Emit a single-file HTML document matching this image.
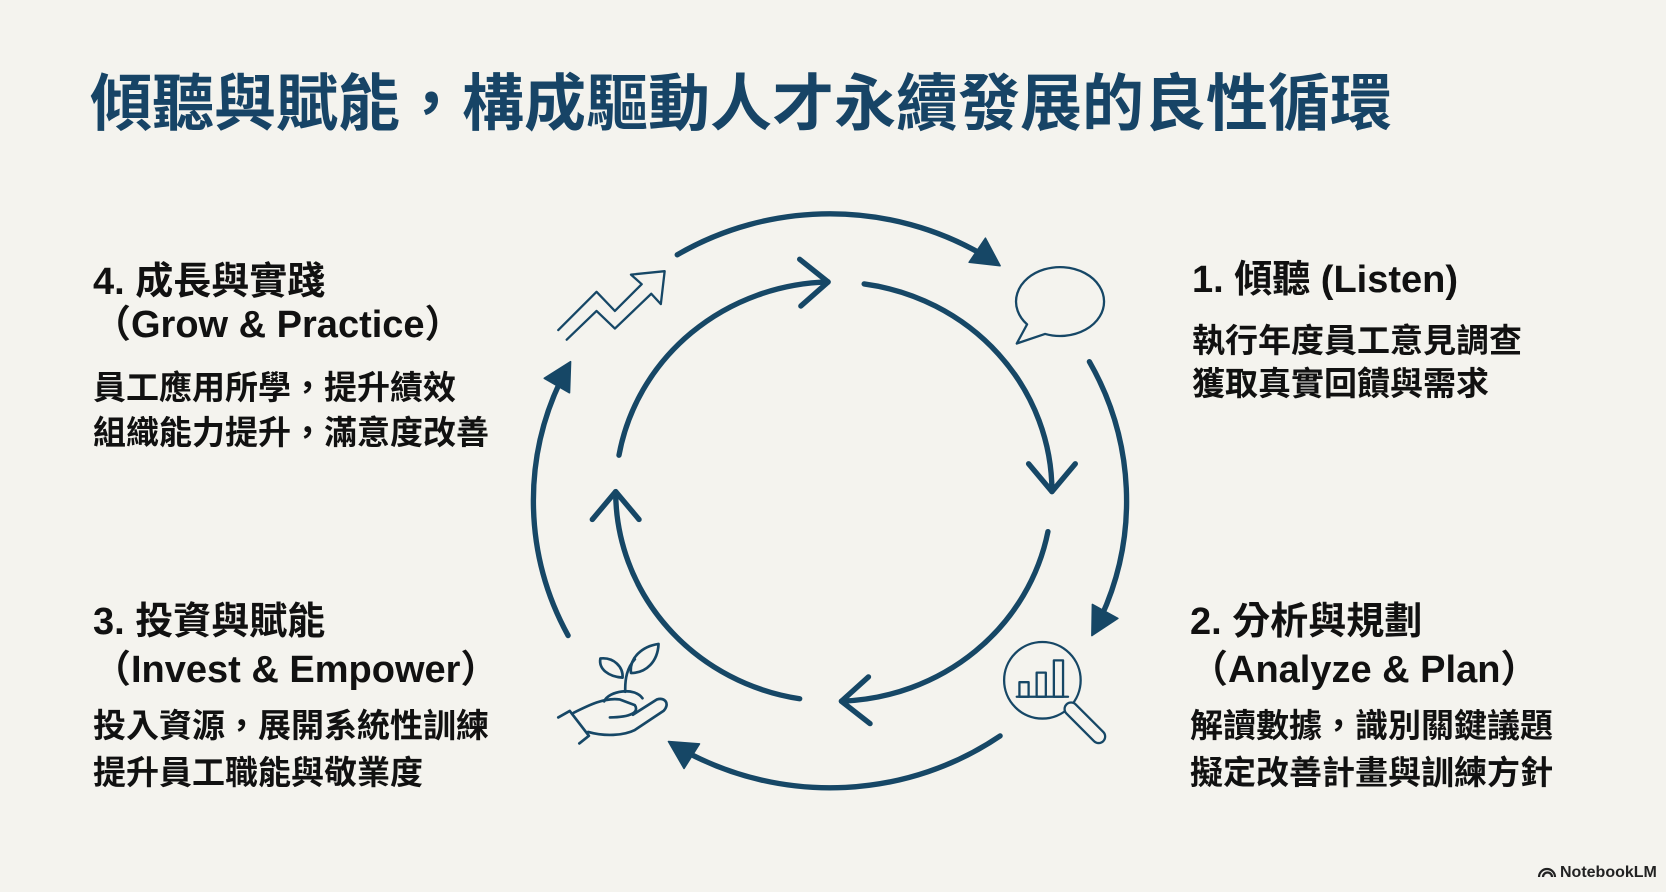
<!DOCTYPE html>
<html><head><meta charset="utf-8">
<style>
html,body{margin:0;padding:0;}
body{width:1666px;height:892px;background:#f4f3ee;position:relative;overflow:hidden;font-family:"Liberation Sans","Noto Sans CJK TC",sans-serif;}
.t{position:absolute;white-space:nowrap;color:#111;font-weight:bold;}
.title{position:absolute;left:90px;top:72px;font-size:62px;line-height:66px;color:#174466;font-weight:bold;font-family:"Liberation Sans","Noto Sans CJK TC",sans-serif;white-space:nowrap;}
.h{font-size:38px;line-height:38px;}
.b{font-size:33px;line-height:33px;}
svg{position:absolute;}
.logo{position:absolute;top:863px;font-size:16px;line-height:20px;color:#222;font-weight:bold;white-space:nowrap;}
</style></head>
<body>
<svg width="1666" height="892" viewBox="0 0 1666 892" style="left:0;top:0;">
 <g transform="translate(520,200) scale(0.3827)" fill="none" stroke="#164766" stroke-linecap="round" stroke-linejoin="round">
  <g id="arcs" stroke-width="14"></g>
  <g stroke-width="6">
   <path d="M100,340 L200,240 L248,290 L318,220 L290,195 L378,186 L368,272 L343,245 L248,336 L200,290 L122,365"/>
   <path d="M1325,325 A115,90 0 1 1 1372,350 L1298,375 Z"/>
   <circle cx="1365" cy="1255" r="100"/>
   <path d="M1298,1298 L1432,1298"/>
   <rect x="1305" y="1260" width="24" height="38"/>
   <rect x="1350" y="1235" width="24" height="63"/>
   <rect x="1395" y="1203" width="24" height="95"/>
   <line x1="1440" y1="1330" x2="1512" y2="1402" stroke-width="40"/>
   <line x1="1440" y1="1330" x2="1512" y2="1402" stroke-width="28" stroke="#f4f3ee"/>
   <g stroke-width="7">
   <path d="M100,1352 L130,1335 L180,1400 L155,1420"/>
   <path d="M140,1340 C180,1320 220,1300 260,1305 L300,1320 C312,1338 290,1352 235,1352"/>
   <path d="M178,1390 C220,1402 270,1400 300,1385 L375,1335 C392,1318 380,1298 358,1305 L295,1345"/>
   <path d="M220,1310 C232,1282 300,1272 320,1302"/>
   <path d="M275,1285 C274,1250 280,1222 300,1200"/>
   <path d="M268,1248 C232,1246 205,1226 210,1198 C245,1194 270,1220 268,1248 Z"/>
   <path d="M290,1236 C285,1196 320,1166 362,1160 C360,1206 330,1236 290,1236 Z"/>
   </g>
  </g>
 </g>
</svg>
<script>
(function(){
 var g=document.getElementById('arcs');var NS="http://www.w3.org/2000/svg";
 function pt(c,a){var r=a*Math.PI/180;return [c.cx+c.rx*Math.cos(r),c.cy+c.ry*Math.sin(r)];}
 function tn(c,a){var r=a*Math.PI/180;var dx=-c.rx*Math.sin(r),dy=c.ry*Math.cos(r);var l=Math.hypot(dx,dy);return [dx/l,dy/l];}
 function arc(c,a1,a2){var p1=pt(c,a1),p2=pt(c,a2);var lg=(a2-a1)>180?1:0;
  var p=document.createElementNS(NS,'path');p.setAttribute('d','M'+p1[0]+','+p1[1]+' A'+c.rx+','+c.ry+' 0 '+lg+' 1 '+p2[0]+','+p2[1]);g.appendChild(p);}
 var O={cx:810,cy:786,rx:775,ry:750};
 [[-121,-55],[-29,28],[55,123],[152,209]].forEach(function(a){
  arc(O,a[0],a[1]-4);
  var tip=pt(O,a[1]),t=tn(O,a[1]);var bx=tip[0]-t[0]*72,by=tip[1]-t[1]*72;var nx=-t[1],ny=t[0];
  var p=document.createElementNS(NS,'path');
  p.setAttribute('d','M'+tip[0]+','+tip[1]+' L'+(bx+nx*38)+','+(by+ny*38)+' L'+(bx-nx*38)+','+(by-ny*38)+' Z');
  p.setAttribute('fill','#164766');p.setAttribute('stroke-width','4');g.appendChild(p);
 });
 var I={cx:820,cy:762,rx:570,ry:548};
 [[190,268.5],[278,360],[11,88],[99,180]].forEach(function(a){
  arc(I,a[0],a[1]);
  var tip=pt(I,a[1]),t=tn(I,a[1]);var L=95;
  function rot(v,d){var r=d*Math.PI/180;return [v[0]*Math.cos(r)-v[1]*Math.sin(r),v[0]*Math.sin(r)+v[1]*Math.cos(r)];}
  var back=[-t[0],-t[1]];var r1=rot(back,40),r2=rot(back,-40);
  var p=document.createElementNS(NS,'path');
  p.setAttribute('d','M'+(tip[0]+r1[0]*L)+','+(tip[1]+r1[1]*L)+' L'+tip[0]+','+tip[1]+' L'+(tip[0]+r2[0]*L)+','+(tip[1]+r2[1]*L));
  g.appendChild(p);
 });
})();
</script>

<div class="title">傾聽與賦能，構成驅動人才永續發展的良性循環</div>

<div class="t h" style="left:93px;top:263px;">4. 成長與實踐</div>
<div class="t h" style="left:93px;top:306px;">（Grow &amp; Practice）</div>
<div class="t b" style="left:93px;top:371px;">員工應用所學，提升績效</div>
<div class="t b" style="left:93px;top:416px;">組織能力提升，滿意度改善</div>

<div class="t h" style="left:1192px;top:261px;">1. 傾聽 (Listen)</div>
<div class="t b" style="left:1192px;top:324px;">執行年度員工意見調查</div>
<div class="t b" style="left:1192px;top:367px;">獲取真實回饋與需求</div>

<div class="t h" style="left:93px;top:603px;">3. 投資與賦能</div>
<div class="t h" style="left:93px;top:651px;">（Invest &amp; Empower）</div>
<div class="t b" style="left:93px;top:709px;">投入資源，展開系統性訓練</div>
<div class="t b" style="left:93px;top:756px;">提升員工職能與敬業度</div>

<div class="t h" style="left:1190px;top:603px;">2. 分析與規劃</div>
<div class="t h" style="left:1190px;top:651px;">（Analyze &amp; Plan）</div>
<div class="t b" style="left:1190px;top:709px;">解讀數據，識別關鍵議題</div>
<div class="t b" style="left:1190px;top:756px;">擬定改善計畫與訓練方針</div>

<svg width="20" height="16" viewBox="0 0 20 16" style="left:1537px;top:862px;">
 <path d="M2,15 A8,8 0 0 1 18,15" fill="none" stroke="#222" stroke-width="2.2"/>
 <path d="M6,15 A4.5,4.5 0 0 1 15,15" fill="none" stroke="#222" stroke-width="2.2"/>
</svg>
<div class="logo" style="left:1560px;">NotebookLM</div>
</body></html>
